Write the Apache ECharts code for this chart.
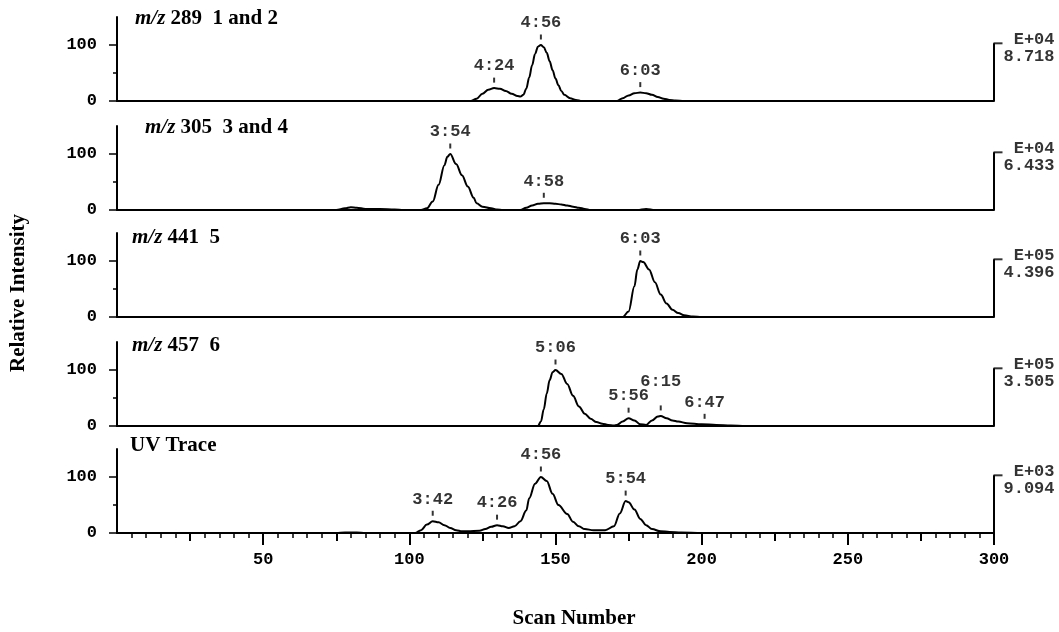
<!DOCTYPE html>
<html>
<head>
<meta charset="utf-8">
<script src="https://cdn.jsdelivr.net/npm/echarts@6/dist/echarts.min.js"></script>
<style>
html, body { margin: 0; padding: 0; background: #fff; }
#chart { width: 1059px; height: 632px; }
</style>
</head>
<body>
<div id="chart"></div>
<script>
// panel headings (ion trace + compound numbers)
var panelIons = ['289', '305', '441', '457', null];
var panelCompounds = ['1 and 2', '3 and 4', '5', '6', 'UV Trace'];
// full-scale intensity for each trace
var scaleExp = ['E+04', 'E+04', 'E+05', 'E+05', 'E+03'];
var scaleVal = ['8.718', '6.433', '4.396', '3.505', '9.094'];

// traces: [scan number, relative intensity]
var ion289 = [[0,0],[121,0],[123,4],[125,13],[127,20],[129,23],[131,22],[133,18],[135,13],[137,9],[138,8],[139,11],
  [140,22],[141,42],[142,64],[143,84],[144,97],[145,100],[146,96],[147,86],[148,71],[149,55],[150,40],[151,28],
  [152,18],[153,11],[155,5],[157,2],[159,0],[171,0],[173,5],[175,10],[177,14],[179,15],[181,14],[183,11],
  [185,7],[187,4],[189,2],[191,1],[194,0],[220,0],[300,0]];
var ion305 = [[0,0],[75,0],[78,3],[80,5],[82,4],[85,2],[90,2],[95,1],[98,0],[104,0],[106,3],[108,15],[110,45],
  [112,80],[113,95],[114,100],[116,82],[118,62],[120,42],[122,22],[123,12],[125,6],[128,3],[130,1],[132,0],
  [138,0],[140,4],[142,8],[144,11],[146,12],[148,12],[150,11],[152,10],[154,8],[156,6],[158,4],[160,2],
  [162,0],[178,0],[181,2],[184,0],[300,0]];
var ion441 = [[0,0],[173,0],[175,10],[177,55],[178,85],[179,100],[180,98],[182,85],[184,62],[186,40],[188,24],
  [190,13],[192,7],[194,3],[197,1],[200,0],[300,0]];
var ion457 = [[0,0],[144,0],[145,8],[146,30],[147,58],[148,82],[149,96],[150,100],[152,93],[154,75],[156,54],
  [158,35],[160,22],[162,13],[164,7],[166,4],[168,2],[170,1],[171,2],[173,8],[175,14],[177,10],[179,3],
  [181,2],[183,10],[185,17],[186,18],[188,14],[190,10],[192,8],[195,5],[200,3],[205,2],[210,1],[215,0],[300,0]];
var uvTrace = [[0,0],[75,0],[78,1],[82,1],[85,0],[102,0],[104,5],[106,15],[108,21],[110,19],[112,14],[114,9],
  [116,5],[118,3],[120,3],[124,4],[126,7],[128,11],[130,14],[132,12],[134,9],[136,12],[138,21],[140,40],
  [141,62],[143,88],[145,100],[147,93],[149,70],[151,50],[154,34],[156,20],[158,12],[160,7],[163,5],[167,5],
  [170,12],[172,35],[174,57],[175,55],[177,42],[179,25],[181,14],[183,7],[186,3],[189,2],[193,1],[200,0],[300,0]];

// labelled peak apexes: [scan, intensity, retention time]
var peaks289 = [[129,23,'4:24'],[145,100,'4:56'],[179,15,'6:03']];
var peaks305 = [[114,100,'3:54'],[146,12,'4:58']];
var peaks441 = [[179,100,'6:03']];
var peaks457 = [[150,100,'5:06'],[175,14,'5:56'],[186,18,'6:15'],[201,3,'6:47']];
var peaksUV = [[108,21,'3:42'],[130,14,'4:26'],[145,100,'4:56'],[174,57,'5:54']];

var scanTicks = [50, 100, 150, 200, 250, 300];
var midTicks = [25, 75, 125, 175, 225, 275];

var traces = [ion289, ion305, ion441, ion457, uvTrace];
var peaks = [peaks289, peaks305, peaks441, peaks457, peaksUV];

var serif = 'Liberation Serif, Times New Roman, serif';
var mono = 'Liberation Mono, Courier New, monospace';
var black = '#000';
var tops = [17, 126, 233, 342, 449];
var titleLeft = [135, 145, 132, 132, 130];
var titleMid = [21, 130, 240, 348, 448];
var nPanels = traces.length;

var grids = [], xAxes = [], yAxes = [], series = [], titles = [];

traces.forEach(function (d, i) {
  var last = i === nPanels - 1;
  grids.push({ left: 117, right: 65, top: tops[i], height: 84 });

  xAxes.push({
    gridIndex: i, type: 'value', min: 0, max: 300, interval: 50,
    axisLine: { show: true, onZero: false, lineStyle: { color: black, width: 2 } },
    axisTick: { show: last, length: 12, customValues: scanTicks, lineStyle: { color: black, width: 2 } },
    minorTick: { show: last, splitNumber: 10, length: 5, lineStyle: { color: black, width: 1.5 } },
    axisLabel: { show: last, margin: 18, customValues: scanTicks, color: black,
      fontFamily: mono, fontWeight: 'bold', fontSize: 17 },
    splitLine: { show: false }
  });

  yAxes.push({
    gridIndex: i, type: 'value', min: 0, max: 150, position: 'left',
    axisLine: { show: true, lineStyle: { color: black, width: 2 } },
    axisTick: { show: true, length: 8, customValues: [0, 100], lineStyle: { color: black, width: 1.5 } },
    axisLabel: { show: true, margin: 20, customValues: [0, 100], color: black,
      fontFamily: mono, fontWeight: 'bold', fontSize: 17 },
    splitLine: { show: false }
  });
  // short half-scale tick
  yAxes.push({
    gridIndex: i, type: 'value', min: 0, max: 150, position: 'left',
    axisLine: { show: false },
    axisTick: { show: true, length: 4, customValues: [50], lineStyle: { color: black, width: 1.5 } },
    axisLabel: { show: false }, splitLine: { show: false }
  });

  var yi = i * 2;
  series.push({
    type: 'line', xAxisIndex: i, yAxisIndex: yi, data: d, smooth: 0.35, smoothMonotone: 'x',
    symbol: 'none', silent: true, lineStyle: { color: black, width: 2 }
  });
  // full-scale bracket on the right
  series.push({
    type: 'line', xAxisIndex: i, yAxisIndex: yi, clip: false, symbol: 'none', silent: true,
    data: [[300, 0], [300, 103]], lineStyle: { color: black, width: 2 }
  });
  series.push({
    type: 'scatter', xAxisIndex: i, yAxisIndex: yi, clip: false, silent: true,
    symbol: 'rect', symbolSize: [9, 2], symbolOffset: [4, 0], itemStyle: { color: black },
    data: [[300, 103]],
    label: { show: true, position: 'right', distance: 1, offset: [0, 5], color: black,
      fontFamily: mono, fontWeight: 'bold', fontSize: 17, lineHeight: 17,
      formatter: ' ' + scaleExp[i] + '\n' + scaleVal[i] }
  });
  // retention time labels over the peaks
  series.push({
    type: 'scatter', xAxisIndex: i, yAxisIndex: yi, silent: true,
    symbol: 'rect', symbolSize: [2, 5], symbolOffset: [0, -8], itemStyle: { color: black },
    data: peaks[i].map(function (p) {
      var item = { value: [p[0], p[1]], name: p[2] };
      if (p[2] === '6:15') item.label = { distance: 15 };
      return item;
    }),
    label: { show: true, position: 'top', distance: 3, formatter: '{b}', color: black,
      fontFamily: mono, fontWeight: 'bold', fontSize: 17 }
  });

  titles.push({
    text: panelIons[i] ? '{i|m/z} ' + panelIons[i] + '  ' + panelCompounds[i] : panelCompounds[i],
    left: titleLeft[i], top: titleMid[i] - 13, padding: 0,
    textStyle: { fontFamily: serif, fontWeight: 'bold', fontSize: 21, color: black,
      rich: { i: { fontFamily: serif, fontStyle: 'italic', fontWeight: 'bold', fontSize: 21, color: black } } }
  });
});

// medium ticks at the quarter marks of the scan axis
xAxes.push({
  gridIndex: nPanels - 1, type: 'value', min: 0, max: 300, position: 'bottom',
  axisLine: { show: false },
  axisTick: { show: true, length: 8, customValues: midTicks, lineStyle: { color: black, width: 2 } },
  axisLabel: { show: false }, splitLine: { show: false }
});

var chart = echarts.init(document.getElementById('chart'));
chart.setOption({
  backgroundColor: '#fff',
  animation: false,
  title: titles,
  grid: grids,
  xAxis: xAxes,
  yAxis: yAxes,
  series: series,
  graphic: [{
    type: 'text', x: 19, y: 293, rotation: Math.PI / 2,
    style: { text: 'Relative Intensity', fontFamily: serif, fontWeight: 'bold', fontSize: 21,
      fill: black, align: 'center', verticalAlign: 'middle' }
  }, {
    type: 'text', x: 574, y: 619,
    style: { text: 'Scan Number', fontFamily: serif, fontWeight: 'bold', fontSize: 21,
      fill: black, align: 'center', verticalAlign: 'middle' }
  }]
});
</script>
</body>
</html>
